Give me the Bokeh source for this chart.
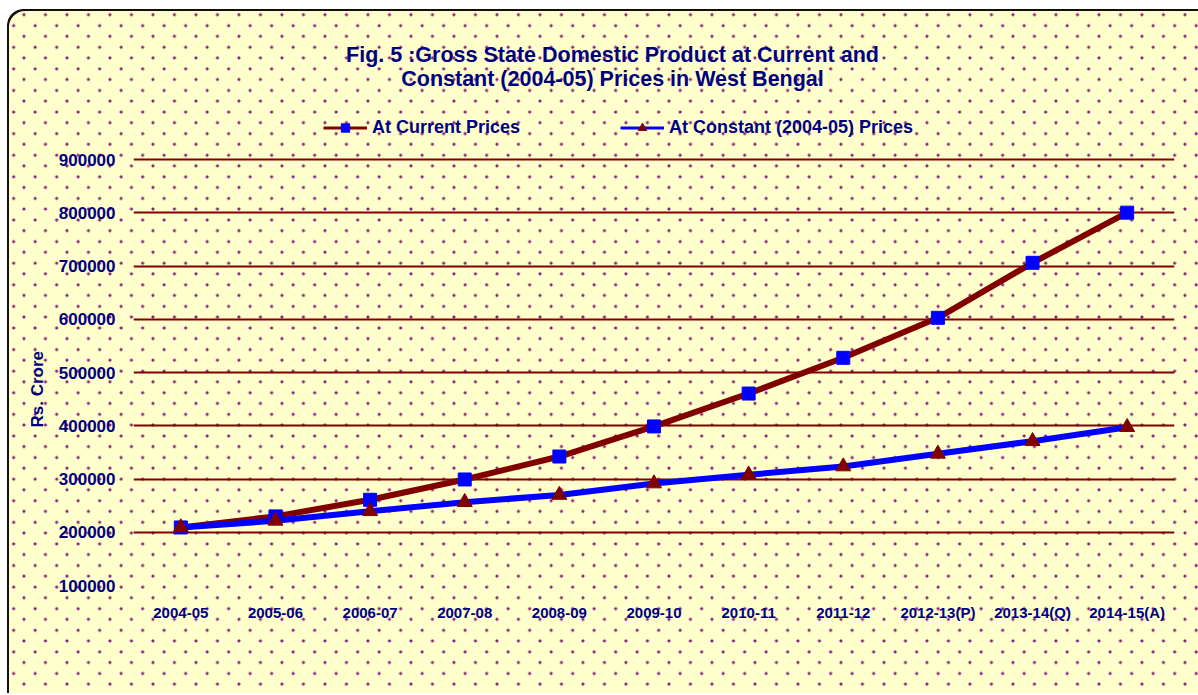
from bokeh.plotting import figure
from bokeh.models import (FactorRange, Range1d, FixedTicker, BasicTickFormatter,
                          Legend, LegendItem, Title, Label)
from bokeh.embed import file_html
from bokeh.resources import INLINE

# ---- data ----
years = ["2004-05", "2005-06", "2006-07", "2007-08", "2008-09", "2009-10",
         "2010-11", "2011-12", "2012-13(P)", "2013-14(Q)", "2014-15(A)"]
current_prices = [209000, 229800, 261000, 299100, 342200, 398700,
                  460500, 527600, 602700, 706000, 800200]
constant_prices = [209000, 221500, 239500, 256500, 270000, 291500,
                   308000, 323500, 347300, 371000, 397300]
y_ticks = [100000, 200000, 300000, 400000, 500000, 600000, 700000, 800000, 900000]
grid_ticks = [200000, 300000, 400000, 500000, 600000, 700000, 800000, 900000]
title_lines = ["Fig. 5 :Gross State Domestic Product at Current and",
               "Constant (2004-05) Prices in West Bengal"]
series_names = ["At Current Prices", "At Constant (2004-05) Prices"]
y_axis_title = "Rs. Crore"

NAVY = "#000080"
MAROON = "#800000"
BLUE = "#0000FF"
FONT = "Liberation Sans"

# the frame reaches up to the top of the canvas so that the title and legend
# (drawn inside it) are not clipped; the y range end leaves room for them
p = figure(width=1191, height=684,
           x_range=FactorRange(factors=years, range_padding=0),
           y_range=Range1d(100000, 1181700),
           output_backend="svg", toolbar_location=None,
           min_border_left=126, min_border_right=24,
           min_border_top=0, min_border_bottom=108)

# transparent canvas; dotted light-yellow backdrop with rounded border via CSS
p.background_fill_color = None
p.border_fill_color = None
p.outline_line_color = None
dot = "radial-gradient(circle, #8a1a7a 0px, #8a1a7a 1.1px, rgba(128,0,128,0) 1.9px)"
p.styles = {
    "margin-left": "7px",
    "margin-top": "9px",
    "background-color": "#FFFFCC",
    "background-image": dot + ", " + dot,
    "background-size": "21.5px 21.6px, 21.5px 21.6px",
    "background-position": "6.2px -5.1px, -4.1px 5.9px",
    "border-top-left-radius": "16px",
    "box-shadow": "inset 2px 2px 0 0 #111111",
}

# grid
p.xgrid.grid_line_color = None
p.ygrid.ticker = FixedTicker(ticks=grid_ticks)
p.ygrid.grid_line_color = MAROON
p.ygrid.grid_line_width = 2

# axes
for ax in (p.xaxis[0], p.yaxis[0]):
    ax.axis_line_color = None
    ax.major_tick_line_color = None
    ax.minor_tick_line_color = None
    ax.major_tick_out = 0
    ax.major_tick_in = 0
    ax.minor_tick_out = 0
    ax.major_label_text_font = FONT
    ax.major_label_text_font_style = "bold"
    ax.major_label_text_color = NAVY

p.xaxis.major_label_text_font_size = "15px"
p.xaxis.major_label_standoff = 18

p.yaxis.ticker = FixedTicker(ticks=y_ticks)
p.yaxis.formatter = BasicTickFormatter(use_scientific=False)
p.yaxis.major_label_text_font_size = "17px"
p.yaxis.major_label_standoff = 18

# y-axis title, placed beside the axis
p.add_layout(Title(text=y_axis_title, align="left", offset=158, standoff=17,
                   text_font=FONT, text_font_style="bold",
                   text_font_size="17px", text_color=NAVY), "left")

# series
r1 = p.line(years, current_prices, line_color=MAROON, line_width=6)
r1m = p.scatter(years, current_prices, marker="square", size=13,
                fill_color=BLUE, line_color=BLUE)
r2 = p.line(years, constant_prices, line_color=BLUE, line_width=6)
r2m = p.scatter(years, constant_prices, marker="triangle", size=15,
                fill_color=MAROON, line_color=MAROON)

# thinner, hidden copies used only for the legend swatches
l1 = p.line(years, current_prices, line_color=MAROON, line_width=3, visible=False)
l1m = p.scatter(years, current_prices, marker="square", size=10,
                fill_color=BLUE, line_color=BLUE, visible=False)
l2 = p.line(years, constant_prices, line_color=BLUE, line_width=3, visible=False)
l2m = p.scatter(years, constant_prices, marker="triangle", size=11,
                fill_color=MAROON, line_color=MAROON, visible=False)

legend = Legend(items=[LegendItem(label=series_names[0], renderers=[l1, l1m]),
                       LegendItem(label=series_names[1], renderers=[l2, l2m])],
                location=(190, 447), orientation="horizontal",
                spacing=100, glyph_width=44, glyph_height=21,
                label_height=21, label_standoff=5,
                padding=0, margin=0, border_line_color=None,
                background_fill_alpha=0, inactive_fill_alpha=0,
                label_text_font=FONT, label_text_font_style="bold",
                label_text_font_size="18px", label_text_color=NAVY)
p.add_layout(legend)

for txt, yy in zip(title_lines, [531, 507]):
    p.add_layout(Label(x=479, y=yy, x_units="screen", y_units="screen",
                       text=txt, text_align="center", text_baseline="middle",
                       text_font=FONT, text_font_style="bold",
                       text_font_size="21.5px", text_color=NAVY))

open("out.html", "w").write(file_html(p, INLINE))
